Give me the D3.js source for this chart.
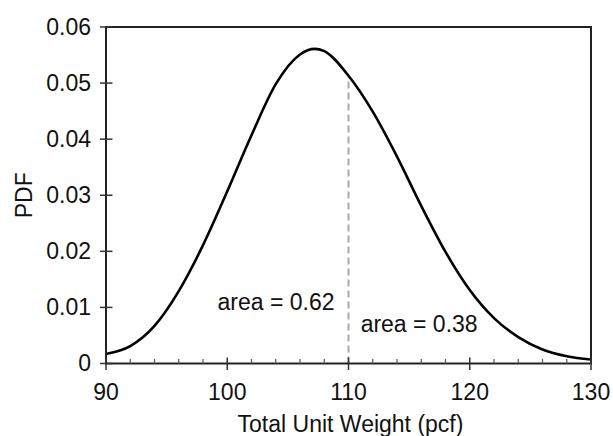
<!DOCTYPE html>
<html>
<head>
<meta charset="utf-8">
<script src="https://cdn.jsdelivr.net/npm/d3@7"></script>
<style>
    body { margin: 0; background: #fff; }
    svg { display: block; font-family: "Liberation Sans", Arial, sans-serif; }
</style>
</head>
<body>
<div id="chart"></div>
<script>
// Curve points
const weights = [90, 92, 94, 96, 98, 100, 102, 104, 106, 107.2, 108, 110, 112, 114, 116, 118, 120, 122, 124, 126, 128, 130];
const pdfValues = [0.0017, 0.0031, 0.0067, 0.0129, 0.0211, 0.0307, 0.0407, 0.0498, 0.0551, 0.0561, 0.0557, 0.0513,
    0.0449, 0.0369, 0.0281, 0.0199, 0.0131, 0.0081, 0.0047, 0.0025, 0.0013, 0.0007];

// Axis ticks
const xTicks = [90, 100, 110, 120, 130];
const xMinorTicks = d3.range(92, 130, 2).filter(v => v % 10 !== 0);
const yTicks = [0, 0.01, 0.02, 0.03, 0.04, 0.05, 0.06];

// Split marker and area notes
const splitWeight = 110;
const splitPdf = 0.0513;
const notes = [
    { text: 'area = 0.62', x: 99.2, y: 0.0095 },
    { text: 'area = 0.38', x: 111.0, y: 0.0056 }
];

const width = 613, height = 436;
const margin = { top: 27, right: 22, bottom: 72.5, left: 106 };

const svg = d3.select('#chart')
    .append('svg')
    .attr('width', width)
    .attr('height', height);

const x = d3.scaleLinear()
    .domain([90, 130])
    .range([margin.left, width - margin.right]);

const y = d3.scaleLinear()
    .domain([0, 0.06])
    .range([height - margin.bottom, margin.top]);

const fontSize = 23;

// Dashed split line
svg.append('line')
    .attr('x1', x(splitWeight))
    .attr('x2', x(splitWeight))
    .attr('y1', y(0))
    .attr('y2', y(splitPdf))
    .attr('stroke', '#aaa')
    .attr('stroke-width', 2)
    .attr('stroke-dasharray', '7,4');

// Curve
const data = weights.map((w, i) => ({ w: w, p: pdfValues[i] }));
svg.append('path')
    .datum(data)
    .attr('fill', 'none')
    .attr('stroke', '#000')
    .attr('stroke-width', 2.6)
    .attr('d', d3.line()
        .x(d => x(d.w))
        .y(d => y(d.p))
        .curve(d3.curveMonotoneX));

// Frame
svg.append('rect')
    .attr('x', x(90))
    .attr('y', y(0.06))
    .attr('width', x(130) - x(90))
    .attr('height', y(0) - y(0.06))
    .attr('fill', 'none')
    .attr('stroke', '#222')
    .attr('stroke-width', 2);

// X axis
const xAxis = svg.append('g')
    .attr('class', 'x-axis')
    .attr('transform', `translate(0,${y(0)})`);

xAxis.selectAll('line.major')
    .data(xTicks)
    .join('line')
    .attr('class', 'major')
    .attr('x1', d => x(d)).attr('x2', d => x(d))
    .attr('y1', -6).attr('y2', 6.5)
    .attr('stroke', '#333')
    .attr('stroke-width', 1.5);

xAxis.selectAll('line.minor')
    .data(xMinorTicks)
    .join('line')
    .attr('class', 'minor')
    .attr('x1', d => x(d)).attr('x2', d => x(d))
    .attr('y1', -4.5).attr('y2', 0)
    .attr('stroke', '#555')
    .attr('stroke-width', 1.2);

xAxis.selectAll('text')
    .data(xTicks)
    .join('text')
    .attr('x', d => x(d))
    .attr('y', 36.5)
    .attr('text-anchor', 'middle')
    .attr('font-size', fontSize)
    .attr('fill', '#111')
    .text(d => d);

// Y axis
const yAxis = svg.append('g')
    .attr('class', 'y-axis')
    .attr('transform', `translate(${x(90)},0)`);

yAxis.selectAll('line')
    .data(yTicks)
    .join('line')
    .attr('x1', -6).attr('x2', 6.5)
    .attr('y1', d => y(d)).attr('y2', d => y(d))
    .attr('stroke', '#333')
    .attr('stroke-width', 1.5);

yAxis.selectAll('text')
    .data(yTicks)
    .join('text')
    .attr('x', -15)
    .attr('y', d => y(d))
    .attr('dy', '0.34em')
    .attr('text-anchor', 'end')
    .attr('font-size', fontSize)
    .attr('fill', '#111')
    .text(d => d === 0 ? '0' : d.toFixed(2));

// Axis labels
svg.append('text')
    .attr('x', (x(90) + x(130)) / 2 + 2)
    .attr('y', 431.5)
    .attr('text-anchor', 'middle')
    .attr('font-size', fontSize)
    .attr('fill', '#111')
    .text('Total Unit Weight (pcf)');

svg.append('text')
    .attr('transform', `translate(32,${(y(0) + y(0.06)) / 2}) rotate(-90)`)
    .attr('text-anchor', 'middle')
    .attr('font-size', fontSize)
    .attr('fill', '#111')
    .text('PDF');

// Area notes
svg.selectAll('text.note')
    .data(notes)
    .join('text')
    .attr('class', 'note')
    .attr('x', d => x(d.x))
    .attr('y', d => y(d.y))
    .attr('font-size', fontSize)
    .attr('fill', '#111')
    .text(d => d.text);
</script>
</body>
</html>
